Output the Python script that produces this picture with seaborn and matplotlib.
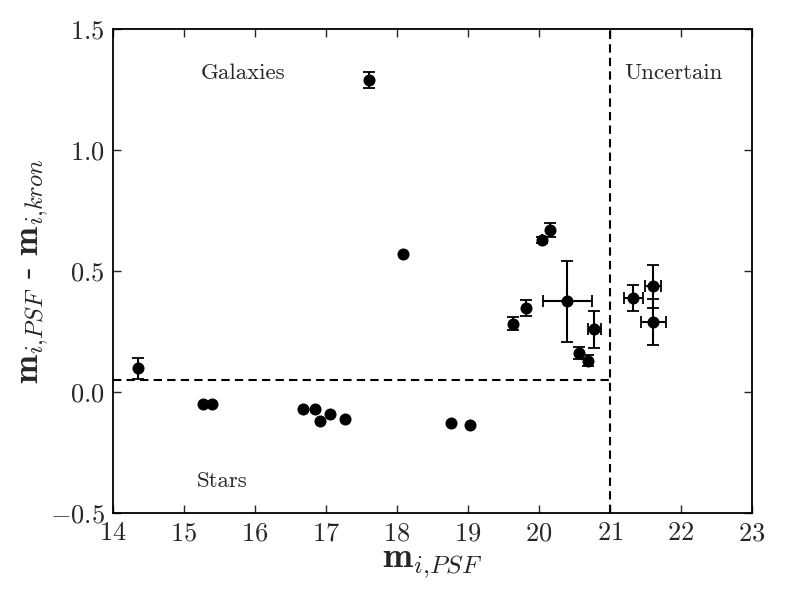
import numpy as np
import pandas as pd
import seaborn as sns
import matplotlib
matplotlib.use('Agg')
import matplotlib.pyplot as plt

# magnitudes
m_psf = [14.35, 15.27, 15.40, 16.68, 16.84, 16.91, 17.05, 17.27, 17.61, 18.08,
         18.76, 19.03, 19.64, 19.82, 20.05, 20.16, 20.40, 20.57, 20.69, 20.78,
         21.33, 21.61, 21.61]
m_diff = [0.098, -0.050, -0.050, -0.069, -0.069, -0.119, -0.090, -0.113, 1.289, 0.572,
          -0.127, -0.135, 0.283, 0.347, 0.630, 0.670, 0.376, 0.161, 0.130, 0.260,
          0.389, 0.437, 0.290]
diff_err = [0.045, 0, 0, 0, 0, 0, 0, 0, 0.033, 0,
            0, 0, 0.027, 0.032, 0.012, 0.030, 0.167, 0.026, 0.022, 0.077,
            0.054, 0.088, 0.096]
psf_err = [0, 0, 0, 0, 0, 0, 0, 0, 0, 0,
           0, 0, 0, 0, 0, 0, 0.345, 0, 0, 0.090,
           0.130, 0.115, 0.175]

star_cut = 0.05
mag_cut = 21.0

df = pd.DataFrame({'m_psf': m_psf, 'm_diff': m_diff,
                   'diff_err': diff_err, 'psf_err': psf_err})

sns.set_style('ticks')
plt.rcParams['font.family'] = 'serif'
plt.rcParams['font.serif'] = ['cmr10', 'DejaVu Serif']
plt.rcParams['mathtext.fontset'] = 'cm'
plt.rcParams['axes.formatter.use_mathtext'] = True

fig = plt.figure(figsize=(7.89, 5.92), dpi=100)
ax = fig.add_axes([0.1432, 0.1334, 0.8098, 0.8171])

# error bars first, markers on top
err = df[df.diff_err > 0]
ax.errorbar(err.m_psf, err.m_diff, yerr=err.diff_err, xerr=err.psf_err,
            fmt='none', ecolor='black', elinewidth=1.5, capsize=4,
            capthick=1.3, zorder=2)
sns.scatterplot(data=df, x='m_psf', y='m_diff', color='black', s=75,
                edgecolor='black', linewidth=0, zorder=3, ax=ax)

# dividing lines
ax.plot([14, mag_cut], [star_cut, star_cut], color='black', lw=1.5,
        dashes=(4, 2.5))
ax.axvline(mag_cut, color='black', lw=1.5, dashes=(4, 2.5))

ax.text(15.23, 1.32, 'Galaxies', fontsize=16.5, va='center')
ax.text(21.2, 1.32, 'Uncertain', fontsize=16.5, va='center')
ax.text(15.18, -0.37, 'Stars', fontsize=16.5, va='center')

ax.set_xlim(14, 23)
ax.set_ylim(-0.5, 1.5)
ax.set_xticks(np.arange(14, 24, 1))
ax.set_yticks([-0.5, 0.0, 0.5, 1.0, 1.5])
ax.yaxis.set_major_formatter(matplotlib.ticker.FormatStrFormatter('$%.1f$'))
ax.xaxis.set_major_formatter(matplotlib.ticker.FormatStrFormatter('$%d$'))
ax.tick_params(direction='in', length=6, width=1, top=True, right=True,
               labelsize=19, pad=6)
for sp in ax.spines.values():
    sp.set_linewidth(1.3)
    sp.set_color('black')

ax.set_xlabel(r'$\mathbf{m}_{i{,}PSF}$', fontsize=26, labelpad=2)
ax.set_ylabel(r'$\mathbf{m}_{i{,}PSF}$ - $\mathbf{m}_{i{,}kron}$', fontsize=25,
              labelpad=-1)

fig.savefig('out.png', dpi=100)
